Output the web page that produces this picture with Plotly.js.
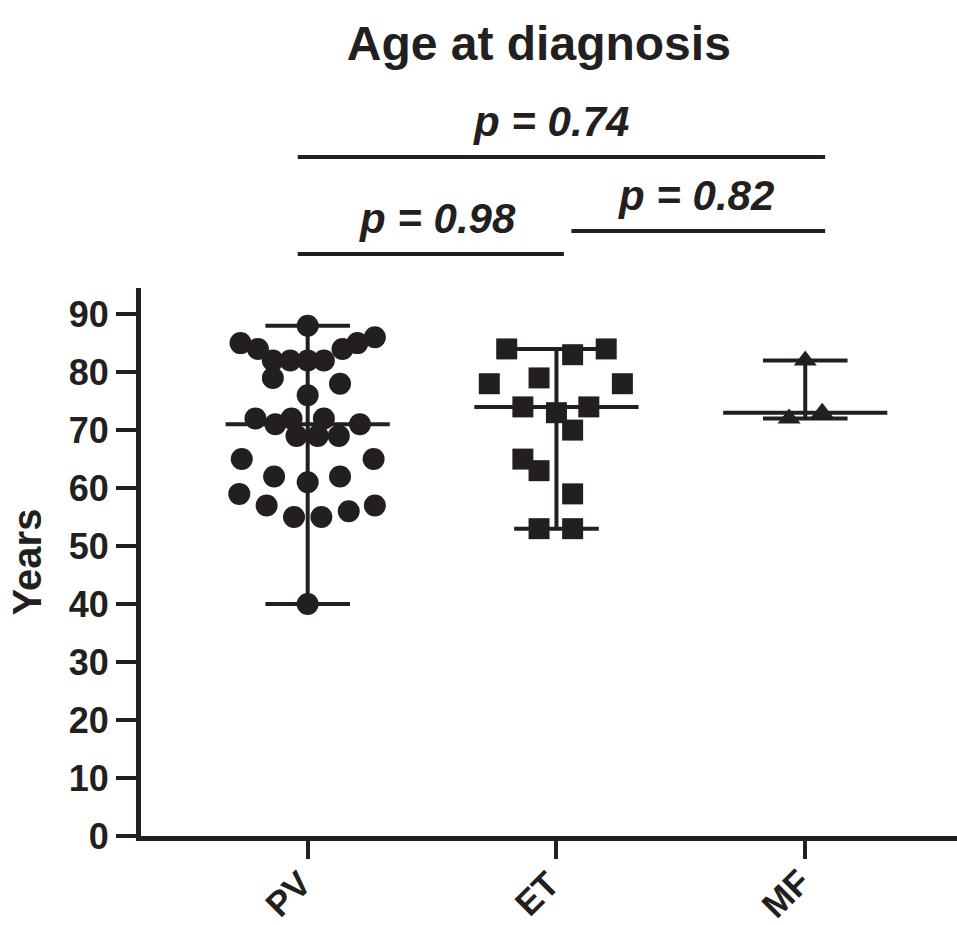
<!DOCTYPE html>
<html><head><meta charset="utf-8">
<script src="https://cdn.plot.ly/plotly-3.0.1.min.js"></script>
<style>html,body{margin:0;padding:0;background:#fff}</style>
</head><body>
<div id="chart" style="width:957px;height:925px"></div>
<script>
// ---- data ----
const groups = ['PV', 'ET', 'MF'];
const pvValues  = [88, 85, 84, 86, 85, 84, 82, 82, 82, 82, 79, 78, 76, 72, 72, 72, 71, 71, 69, 69, 69, 65, 65, 62, 62, 61, 59, 57, 57, 56, 55, 55, 40];
const pvJitter  = [0, -0.27, -0.20, 0.27, 0.20, 0.14, -0.14, -0.07, 0, 0.065, -0.14, 0.13, 0, -0.21, -0.065, 0.065, -0.13, 0.21, -0.045, 0.04, 0.125, -0.265, 0.265, -0.135, 0.13, 0, -0.275, -0.165, 0.27, 0.165, -0.055, 0.055, 0];
const etValues  = [84, 83, 84, 78, 79, 78, 74, 73, 74, 70, 65, 63, 59, 53, 53];
const etJitter  = [-0.2, 0.065, 0.2, -0.27, -0.07, 0.265, -0.135, 0, 0.13, 0.065, -0.135, -0.07, 0.065, -0.07, 0.065];
const mfValues  = [82, 72, 73];
const mfJitter  = [0, -0.065, 0.068];
const yTicks    = [0, 10, 20, 30, 40, 50, 60, 70, 80, 90];
const pLabels   = ['p = 0.74', 'p = 0.98', 'p = 0.82'];
const pBarStart = [-0.04, -0.04, 1.06];
const pBarEnd   = [2.08, 1.03, 2.08];
const pBarLevel = [0.528, 0.137, 0.23];
const pTextX    = [0.98, 0.52, 1.56];
const pTextLevel= [0.672, 0.28, 0.372];

// ---- styling ----
const ink = '#231f20';
const FONT = 'Liberation Sans, Arial, Helvetica, sans-serif';
const medHalf = 0.33, capHalf = 0.17;

function median(a){const s=[...a].sort((x,y)=>x-y);const n=s.length;return n%2?s[(n-1)/2]:(s[n/2-1]+s[n/2])/2;}

const sets = [
  {v: pvValues, j: pvJitter, sym: 'circle', size: 22},
  {v: etValues, j: etJitter, sym: 'square', size: 21},
  {v: mfValues, j: mfJitter, sym: 'triangle-up', size: 20}
];

const traces = [];
sets.forEach((s, i) => {
  const lo = Math.min(...s.v), hi = Math.max(...s.v), md = median(s.v);
  traces.push({
    type: 'scatter', mode: 'lines', xaxis: 'x', yaxis: 'y', hoverinfo: 'skip', showlegend: false,
    x: [i, i, null, i - capHalf, i + capHalf, null, i - capHalf, i + capHalf, null, i - medHalf, i + medHalf],
    y: [lo, hi, null, hi, hi, null, lo, lo, null, md, md],
    line: {color: ink, width: 4}
  });
  traces.push({
    type: 'scatter', mode: 'markers', xaxis: 'x', yaxis: 'y', showlegend: false, name: groups[i],
    x: s.v.map((_, k) => i + s.j[k]), y: s.v,
    marker: {symbol: s.sym, size: s.size, color: ink, line: {width: 0}}
  });
});

// significance bars on a helper axis above the plot
pLabels.forEach((lab, k) => {
  traces.push({
    type: 'scatter', mode: 'lines', xaxis: 'x', yaxis: 'y2', hoverinfo: 'skip', showlegend: false,
    x: [pBarStart[k], pBarEnd[k]], y: [pBarLevel[k], pBarLevel[k]],
    line: {color: ink, width: 4}
  });
});

const annotations = pLabels.map((lab, k) => ({
  text: lab, xref: 'x', yref: 'y2', x: pTextX[k], y: pTextLevel[k],
  xanchor: 'center', yanchor: 'middle', showarrow: false,
  font: {family: FONT, size: 42, color: ink, weight: 'bold', style: 'italic'}
}));

// rotated category labels under the ticks
groups.forEach((g, i) => {
  annotations.push({
    text: g, xref: 'x', yref: 'y', x: i, y: 0, xshift: -20, yshift: -57,
    textangle: -45, xanchor: 'center', yanchor: 'middle', showarrow: false,
    font: {family: FONT, size: 35, color: ink, weight: 'bold'}
  });
});

const yTop = 94.5;
const layout = {
  width: 957, height: 925,
  margin: {l: 141, r: 0, t: 40, b: 89},
  paper_bgcolor: '#fff', plot_bgcolor: '#fff',
  showlegend: false,
  title: {text: 'Age at diagnosis', x: 0.563, xref: 'container', xanchor: 'center',
          y: 0.953, yref: 'container', yanchor: 'middle',
          font: {family: FONT, size: 48, color: ink, weight: 'bold'}},
  xaxis: {
    range: [-0.67, 2.61], tickvals: [0, 1, 2], ticktext: groups, showticklabels: false,
    showgrid: false, zeroline: false, showline: true, linewidth: 5, linecolor: ink,
    ticks: 'outside', ticklen: 18, tickwidth: 4, tickcolor: ink, fixedrange: true
  },
  yaxis: {
    domain: [0, 0.6884], range: [0, yTop], tickvals: yTicks,
    showgrid: false, zeroline: false, showline: true, linewidth: 5, linecolor: ink,
    ticks: 'outside', ticklen: 20, tickwidth: 4, tickcolor: ink,
    tickfont: {family: FONT, size: 36, color: ink, weight: 'bold'},
    title: {text: 'Years', standoff: 16, font: {family: FONT, size: 40, color: ink, weight: 'bold'}},
    fixedrange: true
  },
  yaxis2: {
    domain: [0.6884, 1], range: [0, 1], visible: false, showgrid: false, zeroline: false, fixedrange: true
  },
  annotations: annotations
};

Plotly.newPlot('chart', traces, layout, {displayModeBar: false, staticPlot: true});
</script>
</body></html>
